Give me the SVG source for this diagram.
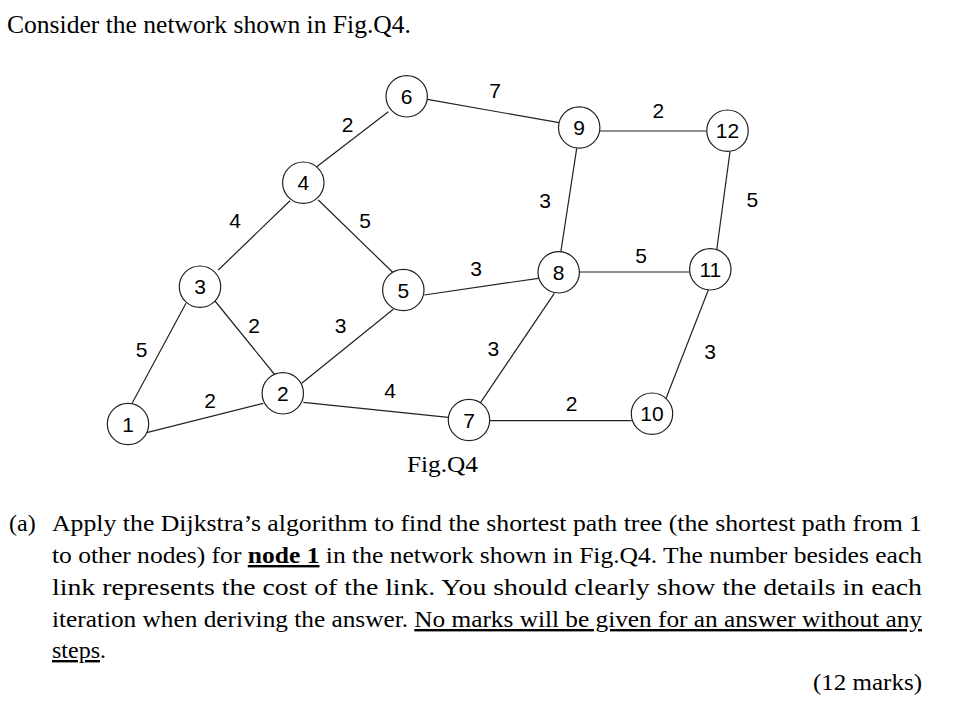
<svg xmlns="http://www.w3.org/2000/svg" width="970" height="710" viewBox="0 0 970 710">
<style>
.e{stroke:#222;stroke-width:1.2;fill:none}
.n circle{fill:#fff;stroke:#222;stroke-width:1.2}
.n text,.w{font-family:"Liberation Sans",Arial,sans-serif;font-size:21px;fill:#000;text-anchor:middle}
.t{font-family:"Liberation Serif","Times New Roman",serif;font-size:24px;fill:#000}
.u{text-decoration:underline}
</style>
<rect width="970" height="710" fill="#fff"/>
<text class="t" x="7" y="33" style="font-size:25.6px" textLength="404" lengthAdjust="spacingAndGlyphs">Consider the network shown in Fig.Q4.</text>
<g id="edges">
<line class="e" x1="131.7" y1="404" x2="186" y2="303.3"/>
<line class="e" x1="146.7" y1="432.7" x2="263.3" y2="403.3"/>
<line class="e" x1="218.3" y1="270" x2="290" y2="200.7"/>
<line class="e" x1="215" y1="301" x2="275" y2="375"/>
<line class="e" x1="316.7" y1="166.7" x2="388.3" y2="111.7"/>
<line class="e" x1="318.3" y1="200" x2="392.7" y2="272.3"/>
<line class="e" x1="301.7" y1="383.3" x2="393.3" y2="309.3"/>
<line class="e" x1="303.3" y1="402.3" x2="448.3" y2="417.3"/>
<line class="e" x1="427.3" y1="99.3" x2="559" y2="122.7"/>
<line class="e" x1="600" y1="131" x2="706.7" y2="131"/>
<line class="e" x1="576.7" y1="148.3" x2="560.7" y2="252.7"/>
<line class="e" x1="424.3" y1="295" x2="538.3" y2="278.3"/>
<line class="e" x1="554.3" y1="293.3" x2="480" y2="403.3"/>
<line class="e" x1="579" y1="272" x2="690" y2="272"/>
<line class="e" x1="730" y1="151.7" x2="716.7" y2="250"/>
<line class="e" x1="708.3" y1="290" x2="665.7" y2="399.3"/>
<line class="e" x1="490" y1="420.7" x2="631.7" y2="420.7"/>
</g>
<g id="weights">
<text class="w" x="347.7" y="131.8">2</text>
<text class="w" x="495" y="97.5">7</text>
<text class="w" x="658.3" y="117.5">2</text>
<text class="w" x="545" y="207.5">3</text>
<text class="w" x="752.3" y="206.8">5</text>
<text class="w" x="235" y="228.2">4</text>
<text class="w" x="365" y="228.2">5</text>
<text class="w" x="476" y="275.8">3</text>
<text class="w" x="641" y="262.5">5</text>
<text class="w" x="254" y="332.5">2</text>
<text class="w" x="340.7" y="332.5">3</text>
<text class="w" x="141.7" y="356.8">5</text>
<text class="w" x="493.3" y="355.8">3</text>
<text class="w" x="710" y="359.2">3</text>
<text class="w" x="210" y="408.2">2</text>
<text class="w" x="390" y="398.2">4</text>
<text class="w" x="571.7" y="410.8">2</text>
</g>
<g id="node1" class="n"><circle cx="128" cy="424" r="20.7"/><text x="128" y="431.5">1</text></g>
<g id="node2" class="n"><circle cx="282.8" cy="393.3" r="20.7"/><text x="282.8" y="400.8">2</text></g>
<g id="node3" class="n"><circle cx="200" cy="286.7" r="20.7"/><text x="200" y="294.2">3</text></g>
<g id="node4" class="n"><circle cx="303.3" cy="182.7" r="20.7"/><text x="303.3" y="190.2">4</text></g>
<g id="node5" class="n"><circle cx="403.3" cy="290" r="20.7"/><text x="403.3" y="297.5">5</text></g>
<g id="node6" class="n"><circle cx="406.7" cy="96.3" r="20.7"/><text x="406.7" y="103.8">6</text></g>
<g id="node7" class="n"><circle cx="469" cy="420" r="20.7"/><text x="469" y="427.5">7</text></g>
<g id="node8" class="n"><circle cx="558.7" cy="272.3" r="20.7"/><text x="558.7" y="279.8">8</text></g>
<g id="node9" class="n"><circle cx="579.2" cy="127.5" r="20.7"/><text x="579.2" y="135">9</text></g>
<g id="node10" class="n"><circle cx="652" cy="413.7" r="20.7"/><text x="652" y="421.2">10</text></g>
<g id="node11" class="n"><circle cx="710.3" cy="269.3" r="20.7"/><text x="710.3" y="276.8">11</text></g>
<g id="node12" class="n"><circle cx="727.5" cy="130.7" r="20.7"/><text x="727.5" y="138.2">12</text></g>
<text class="t" x="407" y="472" textLength="71" lengthAdjust="spacingAndGlyphs">Fig.Q4</text>
<text class="t" x="9" y="531">(a)</text>
<text class="t" x="52" y="531" textLength="870" lengthAdjust="spacingAndGlyphs">Apply the Dijkstra’s algorithm to find the shortest path tree (the shortest path from 1</text>
<text class="t" x="52" y="563" textLength="870" lengthAdjust="spacingAndGlyphs">to other nodes) for <tspan class="u" font-weight="bold">node 1</tspan> in the network shown in Fig.Q4. The number besides each</text>
<text class="t" x="52" y="595" textLength="870" lengthAdjust="spacingAndGlyphs">link represents the cost of the link. You should clearly show the details in each</text>
<text class="t" x="52" y="627" textLength="870" lengthAdjust="spacingAndGlyphs">iteration when deriving the answer. <tspan class="u">No marks will be given for an answer without any</tspan></text>
<text class="t" x="52" y="658"><tspan class="u">steps</tspan>.</text>
<text class="t" x="922" y="690" text-anchor="end" textLength="109" lengthAdjust="spacingAndGlyphs">(12 marks)</text>
</svg>
